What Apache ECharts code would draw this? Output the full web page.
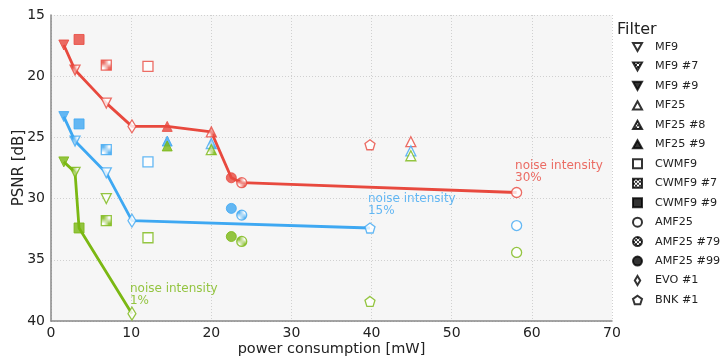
<!DOCTYPE html>
<html>
<head>
<meta charset="utf-8">
<script src="https://cdn.jsdelivr.net/npm/echarts@6/dist/echarts.min.js"></script>
<style>
  html, body { margin: 0; padding: 0; background: #fff; }
  #chart { width: 722px; height: 363px; }
</style>
</head>
<body>
<div id="chart"></div>
<script>
	const filters = ['MF9', 'MF9 #7', 'MF9 #9', 'MF25', 'MF25 #8', 'MF25 #9', 'CWMF9', 'CWMF9 #7', 'CWMF9 #9',
		'AMF25', 'AMF25 #79', 'AMF25 #99', 'EVO #1', 'BNK #1'];
	const power = [6.9, 3.0, 1.6, 44.9, 20.0, 14.5, 12.1, 6.9, 3.5, 58.1, 23.8, 22.5, 10.1, 39.8];
	const psnr30 = [22.2, 19.5, 17.45, 25.35, 24.55, 24.1, 19.2, 19.1, 17.0, 29.5, 28.7, 28.3, 24.1, 25.6];
	const psnr15 = [27.9, 25.3, 23.3, 26.1, 25.5, 25.3, 27.0, 26.0, 23.9, 32.2, 31.35, 30.8, 31.8, 32.4];
	const psnr1 = [30.0, 27.85, 27.0, 26.5, 26.0, 25.7, 33.2, 31.8, 32.4, 34.4, 33.5, 33.1, 39.4, 38.4];
	const front30 = ['MF9 #9', 'MF9 #7', 'MF9', 'EVO #1', 'MF25 #9', 'MF25 #8', 'AMF25 #99', 'AMF25 #79', 'AMF25'];
	const front15 = ['MF9 #9', 'MF9 #7', 'MF9', 'EVO #1', 'BNK #1'];
	const front1 = ['MF9 #9', 'MF9 #7', 'CWMF9 #9', 'EVO #1'];
	const xTicks = [0, 10, 20, 30, 40, 50, 60, 70];
	const yTicks = [15, 20, 25, 30, 35, 40];
	const noteText = ['noise intensity\n30%', 'noise intensity\n15%', 'noise intensity\n1%'];
	const notePos = [[57.9, 27.85], [39.55, 30.5], [9.85, 37.9]];

	const triDown = 'path://M-1,-0.8L1,-0.8L0,1Z';
	const triUp = 'path://M0,-1L1,0.8L-1,0.8Z';
	const pentagon = 'path://M0,-1L0.951,-0.309L0.588,0.809L-0.588,0.809L-0.951,-0.309Z';
	const thinDiamond = 'path://M0,-1L0.6,0L0,1L-0.6,0Z';
	const symbols = [triDown, triDown, triDown, triUp, triUp, triUp, 'rect', 'rect', 'rect',
		'circle', 'circle', 'circle', thinDiamond, pentagon];
	const fills = ['open', 'hatch', 'solid', 'open', 'hatch', 'solid', 'open', 'hatch', 'solid', 'open', 'hatch', 'solid', 'open', 'open'];
	const sizes = [10, 10, 10, 10, 10, 10, 10, 10, 10, 10, 10, 10, [8, 13], 10];

	const colors = ['#e8493e', '#3ea8f2', '#7bb813'];
	const font = 'DejaVu Sans';

	function hatch(color) {
		let c = document.createElement('canvas');
		c.width = c.height = 4;
		let g = c.getContext('2d');
		g.fillStyle = '#fff';
		g.fillRect(0, 0, 4, 4);
		g.fillStyle = color;
		g.fillRect(0, 0, 2, 2);
		g.fillRect(2, 2, 2, 2);
		return {image: c, repeat: 'repeat'};
	}

	function markStyle(i, color) {
		if (fills[i] === 'solid') return {color: color, borderColor: color, borderWidth: 1};
		if (fills[i] === 'hatch') return {color: hatch(color), borderColor: color, borderWidth: 1.3};
		return {color: '#fff', borderColor: color, borderWidth: 1.3};
	}

	function points(psnr, color) {
		return filters.map((f, i) => ({
			value: [power[i], psnr[i]],
			symbol: symbols[i],
			symbolSize: sizes[i],
			itemStyle: markStyle(i, color)
		}));
	}

	function front(names, psnr) {
		return names.map(n => {
			let i = filters.indexOf(n);
			return [power[i], psnr[i]];
		});
	}

	let levels = [psnr30, psnr15, psnr1];
	let fronts = [front30, front15, front1];
	let series = [];

	levels.forEach((p, k) => {
		series.push({
			type: 'line',
			data: front(fronts[k], p),
			symbol: 'none',
			lineStyle: {color: colors[k], width: 2.8},
			z: 2,
			silent: true
		});
		series.push({
			type: 'scatter',
			data: points(p, colors[k]),
			z: 3,
			silent: true
		});
		series.push({
			type: 'scatter',
			data: [notePos[k]],
			symbolSize: 0,
			label: {
				show: true,
				position: 'right',
				distance: 0,
				formatter: noteText[k],
				color: colors[k],
				fontFamily: font,
				fontSize: 12,
				lineHeight: 12
			},
			z: 4,
			silent: true
		});
	});

	filters.forEach((f, i) => {
		series.push({
			type: 'scatter',
			name: f,
			data: [],
			symbol: symbols[i],
			itemStyle: markStyle(i, '#000')
		});
	});

	let chart = echarts.init(document.getElementById('chart'));
	chart.setOption({
		animation: false,
		title: {
			text: 'Filter',
			left: 612,
			top: 17,
			textStyle: {fontFamily: font, fontSize: 16, fontWeight: 'normal', color: '#222'}
		},
		legend: {
			data: filters.map((f, i) => ({name: f, icon: symbols[i]})),
			orient: 'vertical',
			left: 627,
			top: 36,
			itemWidth: 9,
			itemHeight: 9,
			itemGap: 7.46,
			selectedMode: false,
			textStyle: {fontFamily: font, fontSize: 11.2, lineHeight: 12, color: '#222', padding: [0, 0, 0, 8]}
		},
		grid: {
			left: 51,
			right: 110,
			top: 15,
			bottom: 42,
			outerBoundsMode: 'none',
			containLabel: false,
			show: true,
			backgroundColor: '#f6f6f6',
			borderWidth: 0
		},
		xAxis: {
			type: 'value',
			min: xTicks[0],
			max: xTicks[xTicks.length - 1],
			interval: 10,
			name: 'power consumption [mW]',
			nameLocation: 'middle',
			nameGap: 21,
			nameMoveOverlap: false,
			nameTextStyle: {fontFamily: font, fontSize: 14.5, color: '#222'},
			axisLine: {lineStyle: {color: '#888', width: 1.5}},
			axisTick: {show: false},
			axisLabel: {fontFamily: font, fontSize: 14, color: '#222', margin: 5},
			splitLine: {lineStyle: {color: '#d0d0d0', type: [1, 2]}}
		},
		yAxis: {
			type: 'value',
			inverse: true,
			min: yTicks[0],
			max: yTicks[yTicks.length - 1],
			interval: 5,
			name: 'PSNR [dB]',
			nameLocation: 'middle',
			nameGap: 24,
			nameMoveOverlap: false,
			nameTextStyle: {fontFamily: font, fontSize: 15, color: '#222'},
			axisLine: {show: true, lineStyle: {color: '#888', width: 1.5}},
			axisTick: {show: false},
			axisLabel: {fontFamily: font, fontSize: 14, color: '#222', margin: 6},
			splitLine: {lineStyle: {color: '#d0d0d0', type: [1, 2]}}
		},
		series: series
	});
</script>
</body>
</html>
